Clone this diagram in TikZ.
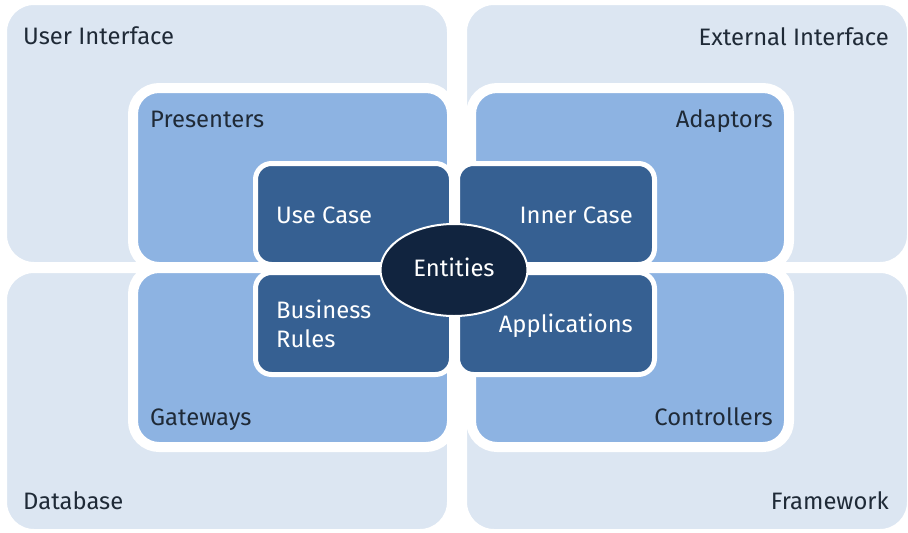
\documentclass[tikz,border=0pt]{standalone}
\usepackage{fontspec}
\setmainfont{Fira Sans}
\usetikzlibrary{shapes.geometric}
\definecolor{outerfill}{HTML}{DCE6F2}
\definecolor{midfill}{HTML}{8DB3E2}
\definecolor{innerfill}{HTML}{366092}
\definecolor{corefill}{HTML}{11243F}
\definecolor{darktext}{HTML}{1F2A37}
\tikzset{
  box/.style={rectangle, inner sep=0pt, draw=white},
  outerbox/.style={box, fill=outerfill, line width=6pt, rounded corners=30pt},
  midbox/.style={box, fill=midfill, line width=10pt, rounded corners=26pt},
  innerbox/.style={box, fill=innerfill, line width=5pt, rounded corners=16pt},
  lbl/.style={inner sep=0pt, text=darktext, font=\fontsize{23.8}{29}\selectfont},
  wlbl/.style={lbl, text=white},
}
\begin{document}
\begin{tikzpicture}[x=1pt,y=-1pt]
\useasboundingbox[fill=white] (0,0) rectangle (908,533);
% outer
\node[outerbox, minimum width=446pt, minimum height=263pt] (ui) at (227,133.5) {};
\node[outerbox, minimum width=446pt, minimum height=263pt] (ei) at (687,133.5) {};
\node[outerbox, minimum width=446pt, minimum height=262pt] (db) at (227,401) {};
\node[outerbox, minimum width=446pt, minimum height=262pt] (fw) at (687,401) {};
% middle
\node[midbox, minimum width=319pt, minimum height=179pt] (pr) at (292.5,177.5) {};
\node[midbox, minimum width=318pt, minimum height=179pt] (ad) at (630,177.5) {};
\node[midbox, minimum width=319pt, minimum height=179pt] (gw) at (292.5,357.5) {};
\node[midbox, minimum width=318pt, minimum height=179pt] (ct) at (630,357.5) {};
% inner
\node[innerbox, minimum width=196pt, minimum height=101pt] (uc) at (353.5,214) {};
\node[innerbox, minimum width=197pt, minimum height=101pt] (ic) at (556,214) {};
\node[innerbox, minimum width=196pt, minimum height=102pt] (br) at (353.5,323.5) {};
\node[innerbox, minimum width=197pt, minimum height=102pt] (ap) at (556,323.5) {};
% core
\node[ellipse, draw=white, line width=2pt, fill=corefill, minimum width=147pt, minimum height=92pt, inner sep=0pt] (en) at (454,270) {};
% labels
\node[lbl, anchor=base west] (tui) at (23,44) {User Interface};
\node[lbl, anchor=base east] (tei) at (889,45) {External Interface};
\node[lbl, anchor=base west] (tdb) at (23,509) {Database};
\node[lbl, anchor=base east] (tfw) at (889,509) {Framework};
\node[lbl, anchor=base west] (tpr) at (150,127) {Presenters};
\node[lbl, anchor=base east] (tad) at (773,127) {Adaptors};
\node[lbl, anchor=base west] (tgw) at (150,425) {Gateways};
\node[lbl, anchor=base east] (tct) at (773,425) {Controllers};
\node[wlbl, anchor=base west] (tuc) at (276,223) {Use Case};
\node[wlbl, anchor=base east] (tic) at (633,223) {Inner Case};
\node[wlbl, anchor=base west] (tbr1) at (276,318) {Business};
\node[wlbl, anchor=base west] (tbr2) at (276,347) {Rules};
\node[wlbl, anchor=base east] (tap) at (633,332) {Applications};
\node[wlbl, anchor=base] (ten) at (454,276) {Entities};
\end{tikzpicture}
\end{document}
